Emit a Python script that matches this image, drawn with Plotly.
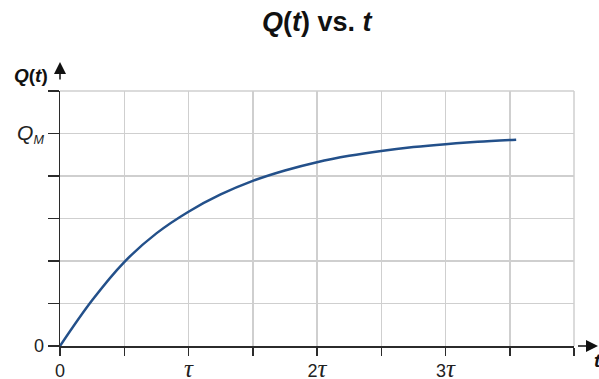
import plotly.graph_objects as go

# Data (t in units of tau, Q in units of Q_M)
t_vals = [0, 0.25, 0.5, 0.75, 1.0, 1.25, 1.5, 1.75, 2.0, 2.25, 2.5, 2.75, 3.0, 3.25, 3.55]
q_vals = [0, 0.215, 0.395, 0.53, 0.632, 0.713, 0.777, 0.826, 0.865, 0.895, 0.918, 0.936, 0.95, 0.961, 0.971]

TAU = "<span style='font-family:Liberation Serif;font-size:25px'><i>τ</i></span>"
x_tickvals = [0, 0.5, 1, 1.5, 2, 2.5, 3, 3.5, 4]
x_ticktext = ["0", "", TAU, "", "2" + TAU, "", "3" + TAU, "", ""]
y_tickvals = [0, 0.2, 0.4, 0.6, 0.8, 1.0, 1.2]
y_ticktext = ["0", "", "", "", "", "<span style='font-size:21px'><i>Q</i></span><sub><i>M</i></sub>", ""]

FONT = "Liberation Sans, Arial, sans-serif"
AXIS = "#2b2b2b"
GRID = "#cfcfcf"

W, H = 599, 379

fig = go.Figure()
fig.add_trace(go.Scatter(x=t_vals, y=q_vals, mode="lines",
                         line=dict(color="#23508a", width=2.5, shape="spline", smoothing=1.0),
                         hoverinfo="skip"))

fig.update_layout(
    width=W, height=H,
    margin=dict(l=60, r=W - 574, t=91, b=H - 346, autoexpand=False),
    plot_bgcolor="white", paper_bgcolor="white",
    showlegend=False,
    font=dict(family=FONT, color="#222", size=18),
    title=dict(text="<b><i>Q</i>(<i>t</i>) vs. <i>t</i></b>",
               x=316.7 / W, xanchor="center", xref="container",
               y=1 - 22 / H, yanchor="middle", yref="container",
               font=dict(family=FONT, size=27, color="#111")),
    xaxis=dict(range=[0, 4], tickvals=x_tickvals, ticktext=x_ticktext,
               automargin=False,
               showgrid=True, gridcolor=GRID, gridwidth=1.5,
               zeroline=False, showline=True, linecolor=AXIS, linewidth=1.5,
               ticks="outside", ticklen=8, tickwidth=1.5, tickcolor=AXIS,
               tickfont=dict(size=18, family=FONT, color="#222"),
               fixedrange=True),
    yaxis=dict(range=[0, 1.2], tickvals=y_tickvals, ticktext=y_ticktext,
               automargin=False,
               showgrid=True, gridcolor=GRID, gridwidth=1.5,
               zeroline=False, showline=True, linecolor=AXIS, linewidth=1.5,
               ticks="outside", ticklen=11, tickwidth=1.5, tickcolor=AXIS,
               tickfont=dict(size=18, family=FONT, color="#222"),
               fixedrange=True),
)

# Right and top border gridlines
fig.add_shape(type="line", xref="paper", yref="paper", x0=1, x1=1, y0=0, y1=1,
              line=dict(color=GRID, width=1.5), layer="below")
fig.add_shape(type="line", xref="paper", yref="paper", x0=0, x1=1, y0=1, y1=1,
              line=dict(color=GRID, width=1.5), layer="below")

# Axis extensions beyond the plot, with arrowheads
fig.add_annotation(xref="paper", yref="paper", x=0, y=(346 - 62) / 255,
                   axref="pixel", ayref="pixel", ax=0, ay=29,
                   showarrow=True, arrowhead=2, arrowsize=1.6, arrowwidth=1.5,
                   arrowcolor="#111", text=" ")
fig.add_annotation(xref="paper", yref="paper", x=(598 - 60) / 514, y=0,
                   axref="pixel", ayref="pixel", ax=-24, ay=0,
                   showarrow=True, arrowhead=2, arrowsize=1.6, arrowwidth=1.5,
                   arrowcolor="#111", text=" ")

# Axis labels
fig.add_annotation(xref="paper", yref="paper", x=-29 / 514, y=(346 - 75) / 255,
                   text="<b><i>Q</i>(<i>t</i>)</b>", showarrow=False,
                   xanchor="center", yanchor="middle",
                   font=dict(family=FONT, size=19, color="#111"))
fig.add_annotation(xref="paper", yref="paper", x=(597 - 60) / 514, y=-(360 - 346) / 255,
                   text="<b><i>t</i></b>", showarrow=False,
                   xanchor="center", yanchor="middle",
                   font=dict(family=FONT, size=19, color="#111"))

fig.write_html("out.html", config={"displayModeBar": False, "staticPlot": True},
               post_script="document.body.style.margin='0';document.body.style.overflow='hidden';")
